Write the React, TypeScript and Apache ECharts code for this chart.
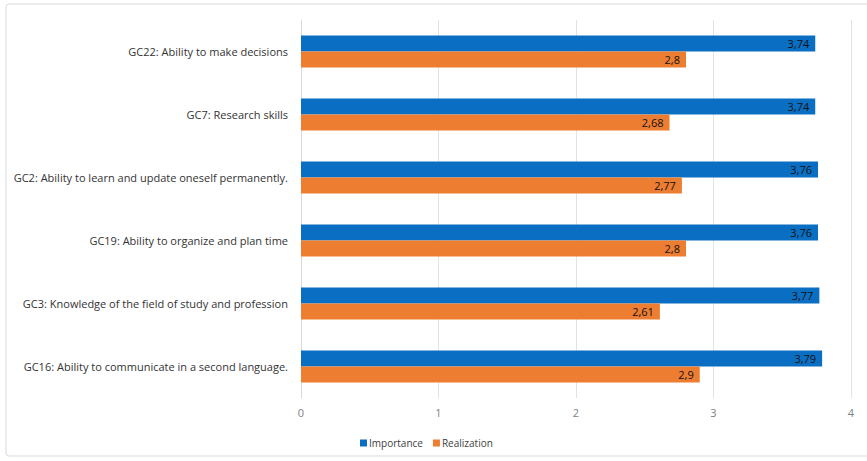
import React, { useEffect, useRef } from "react";
import * as echarts from "echarts";

const categories = [
  "GC22: Ability to make decisions",
  "GC7: Research skills",
  "GC2: Ability to learn and update oneself permanently.",
  "GC19: Ability to organize and plan time",
  "GC3: Knowledge of the field of study and profession",
  "GC16: Ability to communicate in a second language.",
];
const importance = [3.74, 3.74, 3.76, 3.76, 3.77, 3.79];
const realization = [2.8, 2.68, 2.77, 2.8, 2.61, 2.9];
const xTicks = [0, 1, 2, 3, 4];

const FONT = "'Open Sans', 'Liberation Sans', sans-serif";

export default function App() {
  const ref = useRef<HTMLDivElement>(null);
  useEffect(() => {
    if (!ref.current) return;
    const chart = echarts.init(ref.current, undefined, { renderer: "svg" });
    const fmt = (p: any) => String(p.value).replace(".", ",");
    chart.setOption({
      animation: false,
      backgroundColor: "#ffffff",
      textStyle: { fontFamily: FONT },
      graphic: [
        {
          type: "rect",
          shape: { x: 6, y: 4, width: 870, height: 452, r: 3 },
          style: { fill: "none", stroke: "#d9d9d9", lineWidth: 1 },
          silent: true,
        },
      ],
      grid: { left: 301, right: 16, top: 20, bottom: 63, containLabel: false },
      legend: {
        data: ["Importance", "Realization"],
        left: 355,
        top: 433,
        itemWidth: 7,
        itemHeight: 7,
        itemGap: 10,
        icon: "rect",
        textStyle: { fontSize: 10, color: "#404040", fontFamily: FONT, padding: [0, 0, 0, -3] },
      },
      xAxis: {
        type: "value",
        min: xTicks[0],
        max: xTicks[xTicks.length - 1],
        interval: 1,
        axisLine: { show: false },
        axisTick: { show: false },
        splitLine: { lineStyle: { color: "#e3e3e3", width: 1 } },
        axisLabel: { color: "#7f7f7f", fontSize: 11, margin: 9, fontFamily: FONT },
      },
      yAxis: {
        type: "category",
        data: categories,
        inverse: true,
        axisLine: { show: true, lineStyle: { color: "#d9d9d9" } },
        axisTick: { show: false },
        axisLabel: { color: "#333333", fontSize: 11, margin: 13, fontFamily: FONT },
      },
      series: [
        {
          name: "Importance",
          type: "bar",
          data: importance,
          barWidth: 16,
          barGap: "0%",
          itemStyle: { color: "#0a6fc2" },
          label: {
            show: true,
            position: "insideRight",
            distance: 6,
            formatter: fmt,
            color: "#111111",
            fontSize: 11,
            fontFamily: FONT,
          },
        },
        {
          name: "Realization",
          type: "bar",
          data: realization,
          barWidth: 16,
          barGap: "0%",
          itemStyle: { color: "#ed7d31" },
          label: {
            show: true,
            position: "insideRight",
            distance: 6,
            formatter: fmt,
            color: "#111111",
            fontSize: 11,
            fontFamily: FONT,
          },
        },
      ],
    });
    return () => chart.dispose();
  }, []);
  return (
    <div
      ref={ref}
      style={{ position: "absolute", left: 0, top: 0, width: 867, height: 461 }}
    />
  );
}
